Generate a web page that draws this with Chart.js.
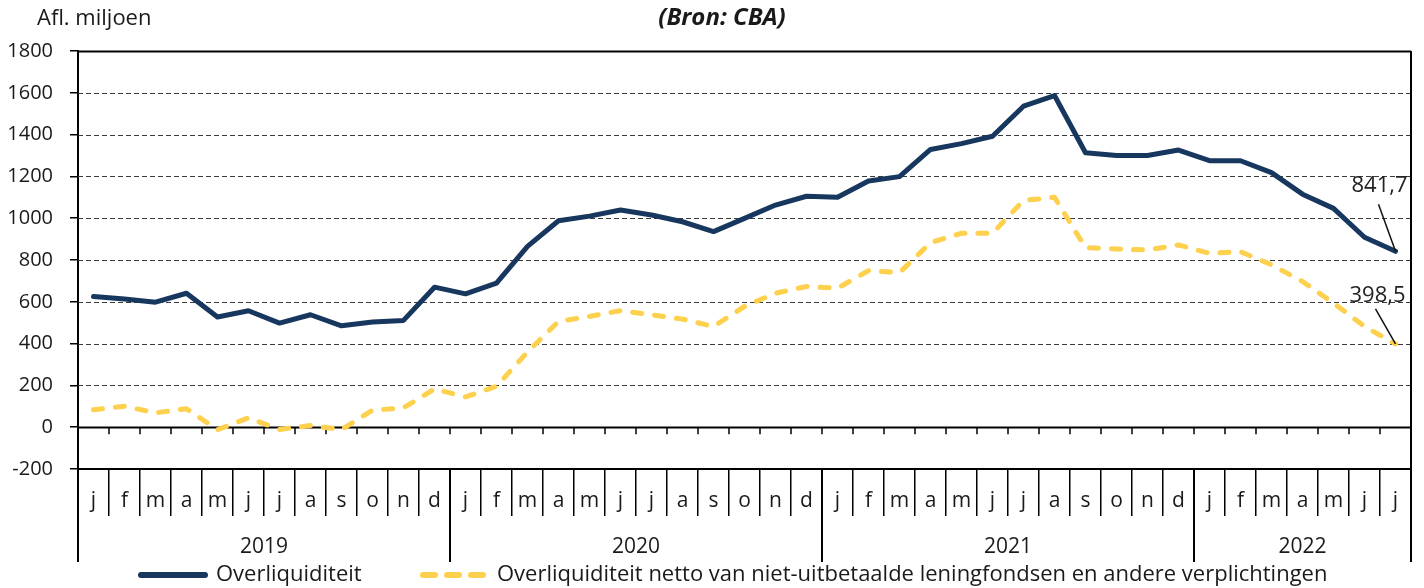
<!DOCTYPE html>
<html>
<head>
<meta charset="utf-8">
<script src="https://cdn.jsdelivr.net/npm/chart.js@4.4.1/dist/chart.umd.min.js"></script>
<style>
  html, body { margin: 0; padding: 0; background: #fff; }
  #wrap { width: 1424px; height: 588px; }
</style>
</head>
<body>
<div id="wrap"><canvas id="liqChart" width="1424" height="588"></canvas></div>
<script>
// maanden jan 2019 t/m jul 2022
var maanden = [
    'j', 'f', 'm', 'a', 'm', 'j', 'j', 'a', 's', 'o', 'n', 'd',
    'j', 'f', 'm', 'a', 'm', 'j', 'j', 'a', 's', 'o', 'n', 'd',
    'j', 'f', 'm', 'a', 'm', 'j', 'j', 'a', 's', 'o', 'n', 'd',
    'j', 'f', 'm', 'a', 'm', 'j', 'j'
];
var jaren = ['2019', '2020', '2021', '2022'];
var maandenPerJaar = [12, 12, 12, 7];

var overliquiditeit = [
    625, 613, 598, 641, 527, 557, 498, 538, 485, 503, 511, 670,
    638, 689, 865, 988, 1010, 1039, 1015, 983, 936, 999, 1063, 1105,
    1100, 1178, 1199, 1329, 1357, 1392, 1536, 1587, 1313, 1300, 1300, 1326,
    1275, 1275, 1218, 1115, 1047, 909, 841.7
];
var overliqNetto = [
    84, 100, 69, 88, -12, 45, -11, 8, -11, 81, 93, 183,
    145, 196, 360, 506, 530, 558, 538, 517, 482, 578, 641, 673,
    665, 749, 740, 883, 928, 928, 1085, 1100, 859, 853, 848, 872,
    832, 840, 777, 697, 594, 482, 398.5
];

var yMin = -200, yMax = 1800, yStep = 200;

var blauw = '#17375e';
var geel = '#fdd04e';
var fontFam = '"Open Sans", "Noto Sans", sans-serif';

Chart.defaults.font.family = fontFam;
Chart.defaults.color = '#1a1a1a';

// extra tekeningen: rasterlijnen, jaren, legenda, labels
var decor = {
    id: 'decor',
    beforeDatasetsDraw: function(chart) {
        var ctx = chart.ctx, ca = chart.chartArea;
        var y = chart.scales.y, x = chart.scales.x;
        ctx.save();
        y.ticks.forEach(function(t) {
            var py = Math.round(y.getPixelForValue(t.value)) + 0.5;
            if (t.value === yMin) return;
            ctx.beginPath();
            if (t.value === yMax || t.value === 0) {
                ctx.setLineDash([]);
                ctx.lineWidth = 2;
                ctx.strokeStyle = '#000';
            } else {
                ctx.setLineDash([5, 3]);
                ctx.lineWidth = 1.2;
                ctx.strokeStyle = '#3a3a3a';
            }
            ctx.moveTo(ca.left, py);
            ctx.lineTo(ca.right, py);
            ctx.stroke();
        });
        // streepjes onder de nullijn
        ctx.setLineDash([]);
        ctx.lineWidth = 1.5;
        ctx.strokeStyle = '#000';
        var half = (x.getPixelForValue(1) - x.getPixelForValue(0)) / 2;
        var y0 = y.getPixelForValue(0);
        for (var i = 1; i <= maanden.length; i++) {
            var bx = x.getPixelForValue(i) - half;
            ctx.beginPath();
            ctx.moveTo(bx, y0);
            ctx.lineTo(bx, y0 + 7);
            ctx.stroke();
        }
        ctx.restore();
    },
    afterDatasetsDraw: function(chart) {
        var ctx = chart.ctx;
        var offs = [
            { tx: -16, ty: -66, lx: -17, ly: -47 },
            { tx: -18, ty: -48, lx: -20, ly: -35 }
        ];
        ctx.save();
        chart.data.datasets.forEach(function(ds, di) {
            var meta = chart.getDatasetMeta(di);
            var last = meta.data[meta.data.length - 1];
            var val = ds.data[ds.data.length - 1];
            var o = offs[di];
            ctx.strokeStyle = '#111';
            ctx.lineWidth = 1.5;
            ctx.beginPath();
            ctx.moveTo(last.x + o.lx, last.y + o.ly);
            ctx.lineTo(last.x, last.y);
            ctx.stroke();
            ctx.fillStyle = '#222';
            ctx.font = '22px ' + fontFam;
            ctx.textAlign = 'center';
            ctx.textBaseline = 'middle';
            ctx.fillText(val.toFixed(1).replace('.', ','), last.x + o.tx, last.y + o.ty);
        });
        ctx.restore();
    },
    afterDraw: function(chart) {
        var ctx = chart.ctx, ca = chart.chartArea;
        var x = chart.scales.x;
        var half = (x.getPixelForValue(1) - x.getPixelForValue(0)) / 2;
        ctx.save();
        // jaarscheidingen en jaartallen
        ctx.strokeStyle = '#000';
        ctx.lineWidth = 2;
        ctx.fillStyle = '#1a1a1a';
        ctx.font = '21px ' + fontFam;
        ctx.textAlign = 'center';
        ctx.textBaseline = 'middle';
        var start = 0;
        jaren.forEach(function(jr, k) {
            var eind = start + maandenPerJaar[k] - 1;
            var left = x.getPixelForValue(start) - half;
            ctx.beginPath();
            ctx.moveTo(left, ca.bottom);
            ctx.lineTo(left, ca.bottom + 93);
            ctx.stroke();
            var mid = (x.getPixelForValue(start) + x.getPixelForValue(eind)) / 2;
            ctx.fillText(jr, mid, ca.bottom + 78);
            start = eind + 1;
        });
        // rechterrand
        ctx.beginPath();
        ctx.moveTo(ca.right, ca.top);
        ctx.lineTo(ca.right, ca.bottom + 93);
        ctx.stroke();

        // titel en eenheid
        ctx.font = 'italic bold 24px ' + fontFam;
        ctx.fillText('(Bron: CBA)', 722, 18);
        ctx.font = '22px ' + fontFam;
        ctx.textAlign = 'left';
        ctx.fillText('Afl. miljoen', 37, 19);

        // legenda
        var ly = 575;
        var items = [
            { x1: 138, x2: 208, tx: 216 },
            { x1: 420, x2: 492, tx: 497 }
        ];
        chart.data.datasets.forEach(function(ds, di) {
            var it = items[di];
            ctx.strokeStyle = ds.borderColor;
            ctx.lineWidth = 6;
            ctx.lineCap = 'round';
            ctx.setLineDash(ds.borderDash ? [12, 12] : []);
            ctx.beginPath();
            ctx.moveTo(it.x1 + 3, ly);
            ctx.lineTo(it.x2 - 3, ly);
            ctx.stroke();
            ctx.setLineDash([]);
            ctx.fillStyle = '#1a1a1a';
            ctx.font = '22px ' + fontFam;
            ctx.textAlign = 'left';
            ctx.fillText(ds.label, it.tx, ly);
        });
        ctx.restore();
    }
};

var ctxLiq = document.getElementById('liqChart').getContext('2d');
var liqChart = new Chart(ctxLiq, {
    type: 'line',
    data: {
        labels: maanden,
        datasets: [
            {
                label: 'Overliquiditeit',
                data: overliquiditeit,
                borderColor: blauw,
                backgroundColor: blauw,
                borderWidth: 5,
                borderJoinStyle: 'round',
                borderCapStyle: 'round',
                pointRadius: 0,
                tension: 0,
                fill: false
            },
            {
                label: 'Overliquiditeit netto van niet-uitbetaalde leningfondsen en andere verplichtingen',
                data: overliqNetto,
                borderColor: geel,
                backgroundColor: geel,
                borderWidth: 5,
                borderDash: [9, 13],
                borderJoinStyle: 'round',
                borderCapStyle: 'round',
                pointRadius: 0,
                tension: 0,
                fill: false
            }
        ]
    },
    options: {
        responsive: false,
        animation: false,
        devicePixelRatio: 1,
        layout: {
            padding: { top: 51, right: 13, bottom: 26, left: 0 }
        },
        plugins: {
            legend: { display: false },
            title: { display: false },
            tooltip: { enabled: false }
        },
        scales: {
            x: {
                type: 'category',
                offset: true,
                grid: {
                    display: true,
                    drawOnChartArea: false,
                    drawTicks: true,
                    tickLength: 47,
                    lineWidth: 1.5,
                    color: '#000',
                    offset: true
                },
                border: { display: true, color: '#000', width: 2 },
                ticks: {
                    autoSkip: false,
                    maxRotation: 0,
                    padding: -28,
                    color: '#1a1a1a',
                    font: { size: 21 }
                },
                afterFit: function(s) { s.height = 93; }
            },
            y: {
                min: yMin,
                max: yMax,
                ticks: {
                    stepSize: yStep,
                    padding: 17,
                    color: '#1a1a1a',
                    font: { size: 20 },
                    callback: function(v) { return String(v); }
                },
                grid: {
                    drawOnChartArea: false,
                    drawTicks: true,
                    tickLength: 8,
                    lineWidth: 1.5,
                    color: '#000'
                },
                border: { display: true, color: '#000', width: 2 },
                afterFit: function(s) { s.width = 78; }
            }
        }
    },
    plugins: [decor]
});
</script>
</body>
</html>
